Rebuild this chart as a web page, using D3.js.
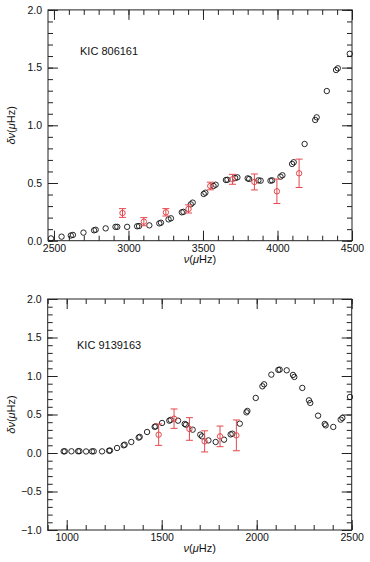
<!DOCTYPE html>
<html><head><meta charset="utf-8">
<script src="https://cdn.jsdelivr.net/npm/d3@7"></script>
<style>
html,body{margin:0;padding:0;background:#fff;}
svg{display:block;}
text{font-family:"Liberation Sans",Arial,Helvetica,sans-serif;fill:#111;}
</style></head>
<body>
<svg id="chart" width="370" height="562"></svg>
<script>
// ---------- DATA: KIC 806161 (top panel) ----------
const topLabel = "KIC 806161";
const topModelFreq = [2480,2551,2613,2627,2698,2769,2780,2847,2913,2925,2991,3058,3071,3140,3207,3218,3269,3285,3358,3369,3418,3431,3505,3516,3571,3585,3654,3664,3716,3731,3800,3810,3872,3887,3953,3964,4020,4033,4098,4109,4182,4253,4263,4331,4393,4405,4485];
const topModelDnu  = [0.02,0.035,0.045,0.05,0.07,0.09,0.095,0.107,0.12,0.12,0.12,0.125,0.127,0.133,0.15,0.156,0.185,0.194,0.246,0.25,0.315,0.33,0.405,0.416,0.474,0.485,0.526,0.528,0.543,0.549,0.54,0.535,0.523,0.52,0.52,0.523,0.555,0.567,0.665,0.68,0.838,1.046,1.069,1.297,1.479,1.494,1.62];
const topObsFreq = [2960,3103,3251,3403,3549,3698,3845,3996,4145];
const topObsDnu  = [0.24,0.165,0.246,0.275,0.474,0.532,0.509,0.428,0.584];
const topObsErr  = [0.038,0.035,0.032,0.035,0.033,0.043,0.069,0.106,0.123];
const topXTicks = [2500,3000,3500,4000,4500];
const topYTicks = [0.0,0.5,1.0,1.5,2.0];

// ---------- DATA: KIC 9139163 (bottom panel) ----------
const botLabel = "KIC 9139163";
const botModelFreq = [984,990,1025,1060,1067,1102,1133,1142,1186,1223,1228,1265,1300,1305,1340,1379,1384,1423,1463,1468,1502,1540,1547,1586,1621,1628,1663,1703,1712,1746,1784,1828,1863,1872,1911,1946,1951,1995,2030,2039,2077,2114,2121,2158,2191,2198,2240,2275,2282,2323,2358,2363,2403,2442,2451,2491];
const botModelDnu  = [0.021,0.022,0.022,0.023,0.024,0.02,0.021,0.022,0.021,0.03,0.032,0.065,0.1,0.108,0.143,0.2,0.21,0.273,0.34,0.346,0.39,0.42,0.43,0.42,0.377,0.368,0.303,0.238,0.216,0.164,0.143,0.173,0.242,0.251,0.381,0.528,0.546,0.715,0.866,0.892,1.018,1.079,1.083,1.074,1.014,0.988,0.845,0.684,0.65,0.485,0.377,0.359,0.338,0.433,0.455,0.728];
const botObsFreq = [1484,1565,1646,1726,1807,1893];
const botObsDnu  = [0.238,0.446,0.312,0.151,0.216,0.229];
const botObsErr  = [0.139,0.126,0.147,0.137,0.134,0.2];
const botXTicks = [1000,1500,2000,2500];
const botYTicks = [-1.0,-0.5,0.0,0.5,1.0,1.5,2.0];

const RED = "#e5484d";
const svg = d3.select("#chart");

function panel(cfg){
  const g = svg.append("g");
  const x = d3.scaleLinear().domain(cfg.xDomain).range([cfg.left, cfg.right]);
  const y = d3.scaleLinear().domain(cfg.yDomain).range([cfg.bottom, cfg.top]);
  const fmtY = d3.format(".1f");
  const minorX = d3.range(Math.ceil(cfg.xDomain[0]/100)*100, cfg.xDomain[1]+1, 100);
  const minorY = d3.range(Math.round(cfg.yDomain[0]*10), Math.round(cfg.yDomain[1]*10)+1).map(v=>v/10);

  const style = sel => { sel.select(".domain").remove(); sel.selectAll("line").attr("stroke","#222").attr("stroke-width",1); sel.selectAll("text").attr("font-size","10.5px").attr("fill","#111"); };

  // minor ticks
  g.append("g").attr("transform",`translate(0,${cfg.bottom})`).call(d3.axisBottom(x).tickValues(minorX).tickSizeInner(-5).tickSizeOuter(0).tickFormat("")).call(style);
  g.append("g").attr("transform",`translate(0,${cfg.top})`).call(d3.axisTop(x).tickValues(minorX).tickSizeInner(-5).tickSizeOuter(0).tickFormat("")).call(style);
  g.append("g").attr("transform",`translate(${cfg.left},0)`).call(d3.axisLeft(y).tickValues(minorY).tickSizeInner(-5).tickSizeOuter(0).tickFormat("")).call(style);
  g.append("g").attr("transform",`translate(${cfg.right},0)`).call(d3.axisRight(y).tickValues(minorY).tickSizeInner(-5).tickSizeOuter(0).tickFormat("")).call(style);
  // major ticks
  g.append("g").attr("transform",`translate(0,${cfg.bottom})`).call(d3.axisBottom(x).tickValues(cfg.xTicks).tickSizeInner(-10).tickSizeOuter(0).tickPadding(4).tickFormat(d3.format("d"))).call(style);
  g.append("g").attr("transform",`translate(0,${cfg.top})`).call(d3.axisTop(x).tickValues(cfg.xTicks).tickSizeInner(-10).tickSizeOuter(0).tickFormat("")).call(style);
  g.append("g").attr("transform",`translate(${cfg.left},0)`).call(d3.axisLeft(y).tickValues(cfg.yTicks).tickSizeInner(-10).tickSizeOuter(0).tickPadding(6).tickFormat(fmtY)).call(style);
  g.append("g").attr("transform",`translate(${cfg.right},0)`).call(d3.axisRight(y).tickValues(cfg.yTicks).tickSizeInner(-10).tickSizeOuter(0).tickFormat("")).call(style);

  // frame
  g.append("rect").attr("x",cfg.left).attr("y",cfg.top).attr("width",cfg.right-cfg.left).attr("height",cfg.bottom-cfg.top)
    .attr("fill","none").attr("stroke","#222").attr("stroke-width",1);

  // model points
  g.append("g").selectAll("circle").data(cfg.mFreq).join("circle")
    .attr("cx",d=>x(d)).attr("cy",(d,i)=>y(cfg.mDnu[i])).attr("r",2.7)
    .attr("fill","none").attr("stroke","#111").attr("stroke-width",0.9);

  // observed with error bars
  const obs = g.append("g").attr("stroke",RED).attr("stroke-width",1).attr("fill","none");
  cfg.oFreq.forEach((f,i)=>{
    const cx = x(f), y0 = y(cfg.oDnu[i]-cfg.oErr[i]), y1 = y(cfg.oDnu[i]+cfg.oErr[i]);
    obs.append("line").attr("x1",cx).attr("x2",cx).attr("y1",y0).attr("y2",y1);
    obs.append("line").attr("x1",cx-3.5).attr("x2",cx+3.5).attr("y1",y0).attr("y2",y0);
    obs.append("line").attr("x1",cx-3.5).attr("x2",cx+3.5).attr("y1",y1).attr("y2",y1);
    obs.append("circle").attr("cx",cx).attr("cy",y(cfg.oDnu[i])).attr("r",2.7);
  });

  // label
  g.append("text").attr("x",cfg.labelX).attr("y",cfg.labelY).attr("font-size","11px").text(cfg.label);

  // x title
  const xt = g.append("text").attr("x",(cfg.left+cfg.right)/2).attr("y",cfg.bottom+22).attr("text-anchor","middle").attr("font-size","11px");
  xt.append("tspan").attr("font-style","italic").text("ν");
  xt.append("tspan").text("(");
  xt.append("tspan").attr("font-style","italic").text("μ");
  xt.append("tspan").text("Hz)");
  // y title
  const yt = g.append("text").attr("transform",`translate(15,${(cfg.top+cfg.bottom)/2}) rotate(-90)`).attr("text-anchor","middle").attr("font-size","11px");
  yt.append("tspan").attr("font-style","italic").text("δν");
  yt.append("tspan").text("(");
  yt.append("tspan").attr("font-style","italic").text("μ");
  yt.append("tspan").text("Hz)");
}

panel({left:48,right:352,top:9.9,bottom:240.7,xDomain:[2460,4500],yDomain:[0,2],
  xTicks:topXTicks,yTicks:topYTicks,mFreq:topModelFreq,mDnu:topModelDnu,
  oFreq:topObsFreq,oDnu:topObsDnu,oErr:topObsErr,label:topLabel,labelX:80,labelY:55});
panel({left:47.7,right:351.7,top:299,bottom:530,xDomain:[900,2500],yDomain:[-1,2],
  xTicks:botXTicks,yTicks:botYTicks,mFreq:botModelFreq,mDnu:botModelDnu,
  oFreq:botObsFreq,oDnu:botObsDnu,oErr:botObsErr,label:botLabel,labelX:77,labelY:349});
</script>
</body></html>
